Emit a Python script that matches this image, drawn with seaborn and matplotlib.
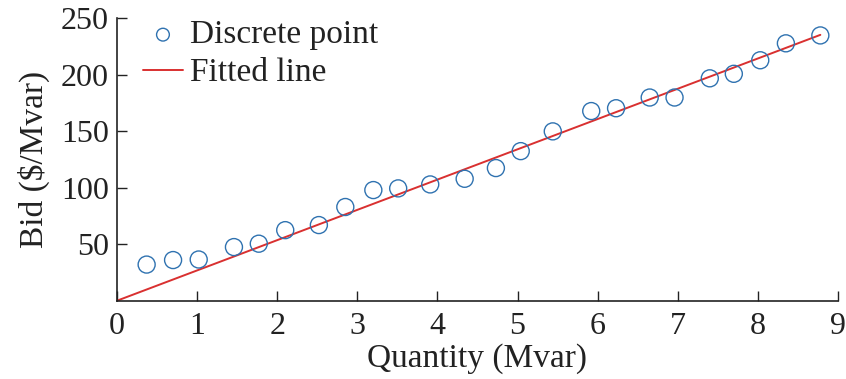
import matplotlib
matplotlib.use("Agg")
import matplotlib.pyplot as plt
import seaborn as sns
import pandas as pd

# discrete bid points
quantity = [0.37, 0.70, 1.02, 1.46, 1.77, 2.10, 2.52, 2.85, 3.20, 3.51,
            3.91, 4.34, 4.73, 5.04, 5.44, 5.92, 6.23, 6.65, 6.96, 7.40,
            7.70, 8.03, 8.35, 8.78]
bid = [32.0, 36.0, 36.5, 47.5, 50.5, 62.5, 67.0, 83.0, 98.0, 99.5,
       103.0, 108.0, 117.5, 132.5, 150.0, 168.0, 170.5, 180.0, 180.0, 197.0,
       201.0, 213.0, 228.0, 235.0]

# fitted line end points
fit_x = [0.0, 8.78]
fit_y = [0.0, 235.5]

x_ticks = list(range(0, 10))
y_ticks = [50, 100, 150, 200, 250]

sns.set_theme(style="ticks")
plt.rcParams["font.family"] = ["Liberation Serif", "DejaVu Serif"]

pts = pd.DataFrame({"q": quantity, "b": bid})
fit = pd.DataFrame({"q": fit_x, "b": fit_y})

fig = plt.figure(figsize=(8.46, 3.79), dpi=100)
ax = fig.add_axes([0.1383, 0.2066, 0.8522, 0.7446])

sns.scatterplot(data=pts, x="q", y="b", ax=ax, marker="o", s=150,
                facecolors="none", edgecolor="#2f72b0", linewidth=1.0,
                label="Discrete point", zorder=3)
sns.lineplot(data=fit, x="q", y="b", ax=ax, color="#d93030", linewidth=1.4,
             label="Fitted line", zorder=2)

ax.set_xlim(0, 9)
ax.set_ylim(0, 250)
ax.set_xticks(x_ticks)
ax.set_yticks(y_ticks)
ax.tick_params(direction="in", length=7, width=1.0, labelsize=23,
               colors="#222222", pad=6)
ax.tick_params(axis="x", pad=8)
for s in ["left", "bottom"]:
    ax.spines[s].set_color("#222222")
    ax.spines[s].set_linewidth(1.2)
sns.despine(ax=ax)

ax.set_xlabel("Quantity (Mvar)", fontsize=24, color="#222222", labelpad=2)
ax.set_ylabel("Bid (\\$/Mvar)", fontsize=24, color="#222222", labelpad=8)

leg = ax.legend(loc="upper left", frameon=False, fontsize=24,
                bbox_to_anchor=(0.036, 0.995), handlelength=1.2,
                handletextpad=0.22, labelspacing=0.22, borderaxespad=0.0,
                borderpad=0.0, markerscale=0.75)
for t in leg.get_texts():
    t.set_color("#222222")

fig.savefig("out.png", dpi=100)
